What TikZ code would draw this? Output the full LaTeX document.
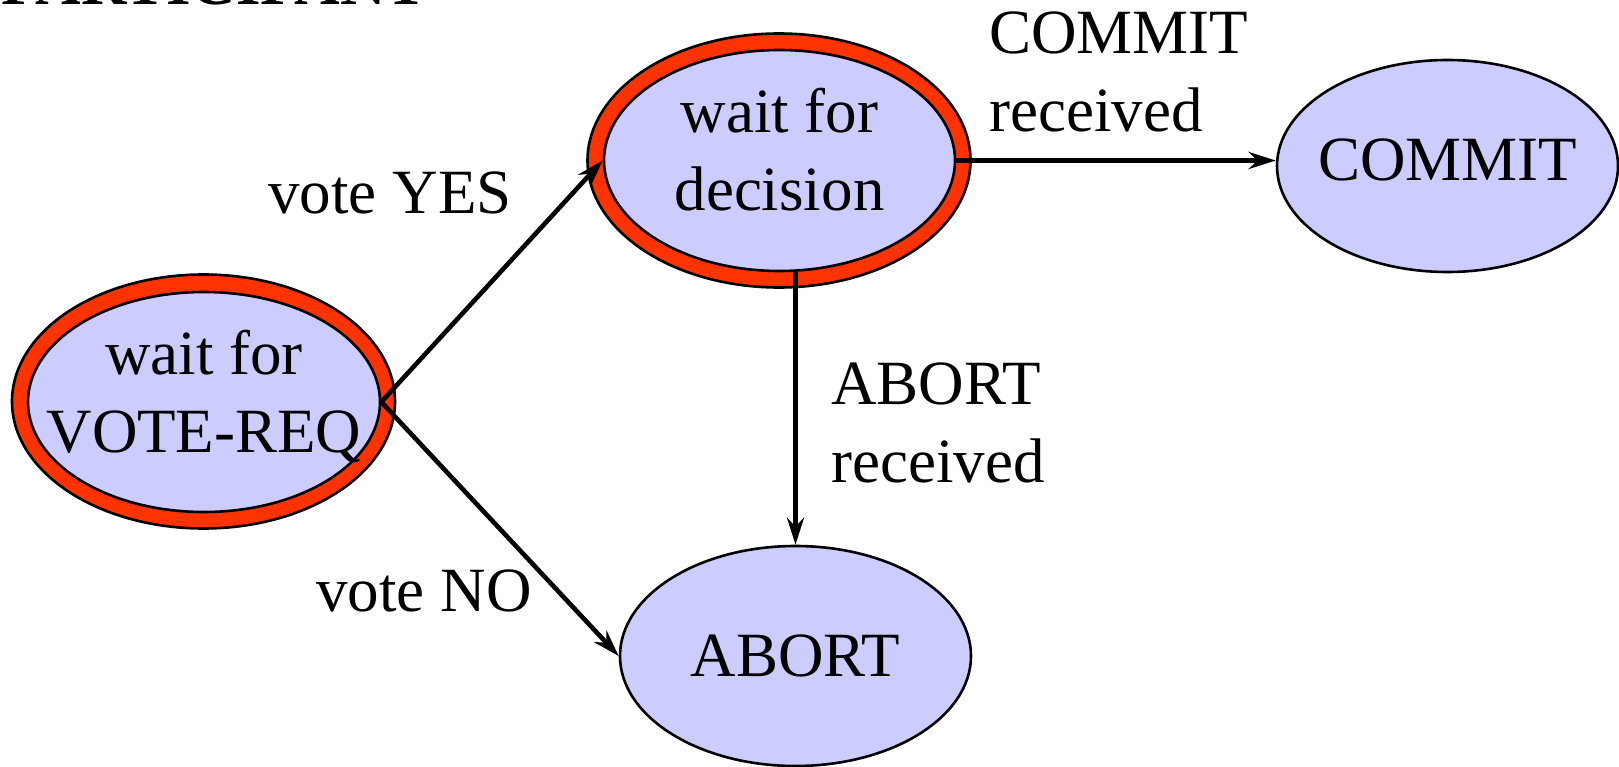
\documentclass[tikz,border=0pt]{standalone}
\usepackage{fontspec}
\setmainfont{Liberation Serif}
\usetikzlibrary{shapes.geometric,arrows.meta}
\definecolor{statefill}{HTML}{CCCCFF}
\definecolor{ring}{HTML}{FF3300}
\tikzset{
  big/.style={font=\fontsize{63}{78}\selectfont, inner sep=0pt},
  state/.style={ellipse, draw=black, line width=2.6pt, fill=statefill, inner sep=0pt},
  outer/.style={ellipse, draw=black, line width=2.6pt, fill=ring, inner sep=0pt,
    minimum width=383pt, minimum height=254pt},
  conn/.style={draw=black, line width=4.6pt,
    -{Stealth[length=27pt,width=17pt,inset=9pt]}}
}
\begin{document}
\begin{tikzpicture}[x=1pt,y=-1pt]
\useasboundingbox (0,0) rectangle (1619,767);
% title (cut off at top)
\node[big, font=\fontsize{63}{78}\selectfont\bfseries, anchor=base east] (title) at (428,5) {PARTICIPANT};
% double-ringed states
\node[outer] (vrO) at (203.5,401.5) {};
\node[state, minimum width=352pt, minimum height=220pt] (vr) at (204,402) {};
\node[outer] (decO) at (779,160.5) {};
\node[state, minimum width=351pt, minimum height=221pt] (dec) at (779.5,160.5) {};
% plain states
\node[state, minimum width=351pt, minimum height=220pt] (abort) at (795.5,656) {};
\node[state, minimum width=341pt, minimum height=212pt] (commit) at (1447.5,166) {};
% state texts
\node[big, align=center] (vrT) at (204,396) {wait for\\VOTE-REQ};
\node[big, align=center] (decT) at (779.5,150) {wait for\\decision};
\node[big] (abortT) at (795.5,656) {ABORT};
\node[big] (commitT) at (1447.5,160) {COMMIT};
% connectors
\draw[conn] (vr.east) -- (dec.west);
\draw[conn] (vr.east) -- (abort.west);
\draw[conn] (dec.east) -- (dec.east -| commit.west);
\draw[conn] (dec.south -| abort.north) -- (abort.north);
% labels
\node[big, anchor=base] (lyes) at (390,214) {vote YES};
\node[big, anchor=base] (lno) at (424,611) {vote NO};
\node[big, align=left, anchor=north west] (lcommit) at (989,12) {COMMIT\\received};
\node[big, align=left, anchor=north west] (labort) at (831,363) {ABORT\\received};
\end{tikzpicture}
\end{document}
